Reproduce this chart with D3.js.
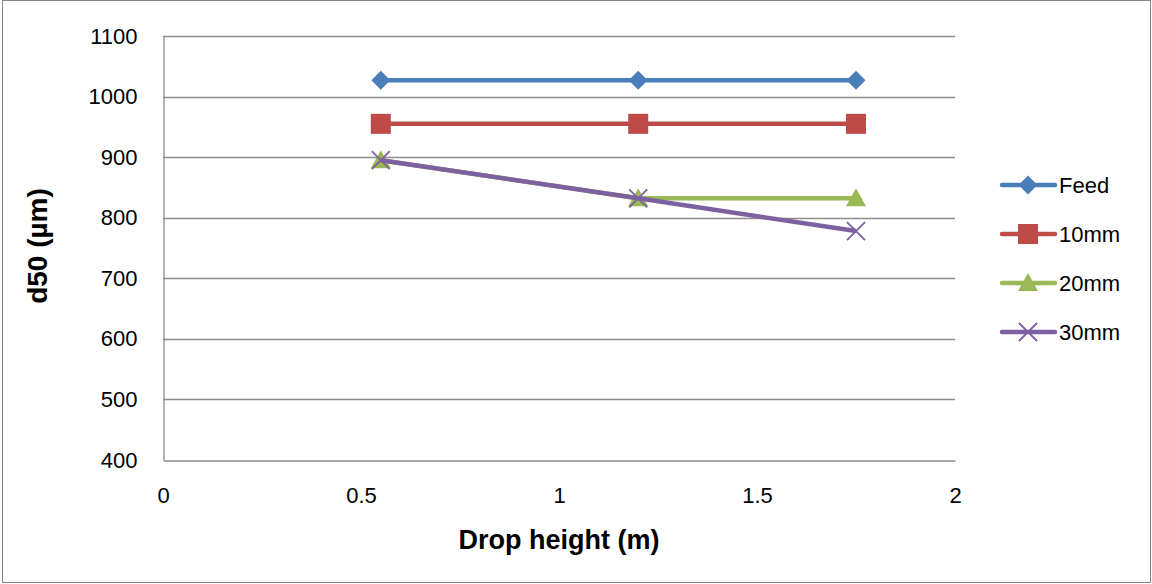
<!DOCTYPE html>
<html><head><meta charset="utf-8">
<script src="https://cdn.jsdelivr.net/npm/d3@7"></script>
<style>body{margin:0;background:#fff}svg{display:block}</style>
</head><body>
<script>
const xValues = [0.55, 1.2, 1.75];
const seriesNames = ["Feed", "10mm", "20mm", "30mm"];
const feed = [1027, 1027, 1027];
const mm10 = [955, 955, 955];
const mm20 = [895, 832, 832];
const mm30 = [895, 832, 778];
const xTicks = [0, 0.5, 1, 1.5, 2];
const yTicks = [400, 500, 600, 700, 800, 900, 1000, 1100];
const colors = ["#4A7EBB", "#BE4B48", "#98B954", "#7D60A0"];
const markers = ["diamond", "square", "triangle", "x"];
const seriesValues = [feed, mm10, mm20, mm30];

const W = 1152, H = 584;
const m = {left: 163, right: 955, top: 36, bottom: 460};
const font = "'Liberation Sans', Arial, sans-serif";
const fs = 22;

const svg = d3.select("body").append("svg").attr("width", W).attr("height", H);
svg.append("rect").attr("x", 2.5).attr("y", 0.5).attr("width", W - 4).attr("height", H - 2)
  .attr("fill", "#fff").attr("stroke", "#868686").attr("stroke-width", 1);

const x = d3.scaleLinear().domain([0, 2]).range([m.left, m.right]);
const y = d3.scaleLinear().domain([400, 1100]).range([m.bottom, m.top]);

// gridlines
svg.append("g").selectAll("line").data(yTicks.slice(1)).join("line")
  .attr("x1", m.left).attr("x2", m.right)
  .attr("y1", d => Math.round(y(d)) + 0.5).attr("y2", d => Math.round(y(d)) + 0.5)
  .attr("stroke", "#8c8c8c").attr("stroke-width", 1.3);

// y axis
const yAxis = svg.append("g").attr("transform", `translate(${m.left + 0.5},0)`)
  .call(d3.axisLeft(y).tickValues(yTicks).tickSize(0).tickPadding(26).tickFormat(d3.format("d")));
yAxis.select(".domain").attr("stroke", "#8c8c8c").attr("stroke-width", 1.3);
yAxis.selectAll("text").attr("font-family", font).attr("font-size", fs).attr("fill", "#000");

// x axis
const xAxis = svg.append("g").attr("transform", `translate(0,${m.bottom + 0.5})`)
  .call(d3.axisBottom(x).tickValues(xTicks).tickSize(0).tickPadding(27).tickFormat(d3.format("")));
xAxis.select(".domain").attr("stroke", "#8c8c8c").attr("stroke-width", 1.3);
xAxis.selectAll("text").attr("font-family", font).attr("font-size", fs).attr("fill", "#000");

function drawMarker(g, type, color, cx, cy) {
  if (type === "diamond") {
    g.append("path").attr("d", `M${cx},${cy-9.5}L${cx+9.5},${cy}L${cx},${cy+9.5}L${cx-9.5},${cy}Z`).attr("fill", color);
  } else if (type === "square") {
    g.append("rect").attr("x", cx - 10).attr("y", cy - 10).attr("width", 20).attr("height", 20).attr("fill", color);
  } else if (type === "triangle") {
    g.append("path").attr("d", `M${cx},${cy-10}L${cx+10},${cy+8}L${cx-10},${cy+8}Z`).attr("fill", color);
  } else {
    g.append("path").attr("d", `M${cx-9},${cy-9}L${cx+9},${cy+9}M${cx+9},${cy-9}L${cx-9},${cy+9}`)
      .attr("stroke", color).attr("stroke-width", 1.8).attr("fill", "none");
  }
}

const line = d3.line().x(d => x(d[0])).y(d => y(d[1]));
seriesValues.forEach((vals, i) => {
  const g = svg.append("g");
  const pts = xValues.map((xv, j) => [xv, vals[j]]);
  g.append("path").attr("d", line(pts)).attr("fill", "none")
    .attr("stroke", colors[i]).attr("stroke-width", 4.5).attr("stroke-linejoin", "round");
  pts.forEach(p => drawMarker(g, markers[i], colors[i], x(p[0]), y(p[1])));
});

// legend
const legendY = [185, 234, 283, 332];
seriesNames.forEach((name, i) => {
  const g = svg.append("g");
  const ly = legendY[i];
  g.append("line").attr("x1", 1002).attr("x2", 1055).attr("y1", ly).attr("y2", ly)
    .attr("stroke", colors[i]).attr("stroke-width", 4.5).attr("stroke-linecap", "round");
  drawMarker(g, markers[i], colors[i], 1028, ly);
  g.append("text").attr("x", 1059).attr("y", ly).attr("dy", "0.35em")
    .attr("font-family", font).attr("font-size", fs).attr("fill", "#000").text(name);
});

// axis titles
svg.append("text").attr("x", 559).attr("y", 540).attr("dy", "0.35em")
  .attr("text-anchor", "middle").attr("font-family", font).attr("font-weight", "bold")
  .attr("font-size", 27).text("Drop height (m)");
svg.append("text").attr("transform", `translate(37,246) rotate(-90)`).attr("dy", "0.35em")
  .attr("text-anchor", "middle").attr("font-family", font).attr("font-weight", "bold")
  .attr("font-size", 28).text("d50 (µm)");
</script>
</body></html>
